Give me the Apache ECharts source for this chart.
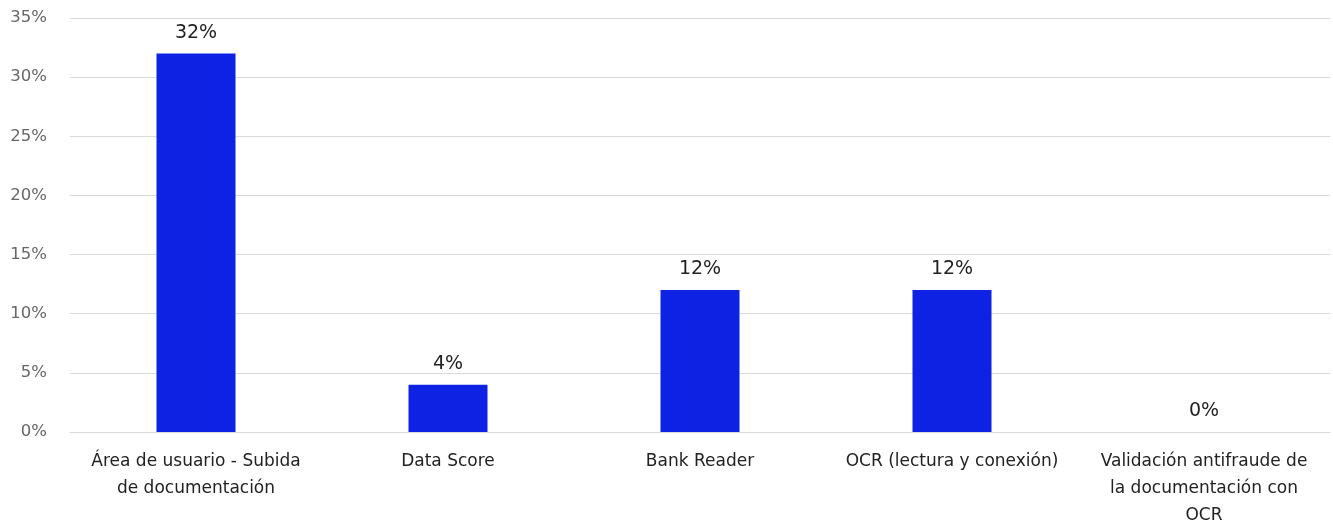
<!DOCTYPE html>
<html>
<head>
<meta charset="utf-8">
<script src="https://cdn.jsdelivr.net/npm/echarts@6/dist/echarts.min.js"></script>
<style>
  html, body { margin: 0; padding: 0; background: #ffffff; overflow: hidden; }
  #chart { width: 1333px; height: 522px; }
</style>
</head>
<body>
<div id="chart"></div>
<script>
// Categories (line breaks as shown under the axis)
const categories = [
  'Área de usuario - Subida\nde documentación',
  'Data Score',
  'Bank Reader',
  'OCR (lectura y conexión)',
  'Validación antifraude de\nla documentación con\nOCR'
];
// Share per category, in percent
const values = [32, 4, 12, 12, 0];
// Value axis range and step, in percent
const yMin = 0;
const yMax = 35;
const yStep = 5;

const FONT = '"DejaVu Sans", "Noto Sans", sans-serif';

const el = document.getElementById('chart');
const chart = echarts.init(el, null, { renderer: 'canvas' });
chart.setOption({
  animation: false,
  backgroundColor: '#ffffff',
  grid: {
    left: 70, right: 3, top: 18, bottom: 90,
    containLabel: false,
    outerBoundsMode: 'none'
  },
  xAxis: {
    type: 'category',
    data: categories,
    axisLine: { show: true, lineStyle: { color: '#d9d9d9', width: 1 } },
    axisTick: { show: false },
    axisLabel: {
      interval: 0,
      margin: 16,
      color: '#222222',
      fontFamily: FONT,
      fontSize: 17,
      lineHeight: 27,
      align: 'center'
    }
  },
  yAxis: {
    type: 'value',
    min: yMin,
    max: yMax,
    interval: yStep,
    axisLine: { show: false },
    axisTick: { show: false },
    splitLine: { show: true, lineStyle: { color: '#d9d9d9', width: 1 } },
    axisLabel: {
      margin: 23,
      color: '#666666',
      fontFamily: FONT,
      fontSize: 16.5,
      formatter: v => v + '%'
    }
  },
  series: [{
    type: 'bar',
    data: values,
    barWidth: 79,
    itemStyle: { color: '#0d22e3' },
    label: {
      show: true,
      position: 'top',
      distance: 11,
      color: '#222222',
      fontFamily: FONT,
      fontSize: 19,
      formatter: p => p.value + '%'
    }
  }]
});
</script>
</body>
</html>
